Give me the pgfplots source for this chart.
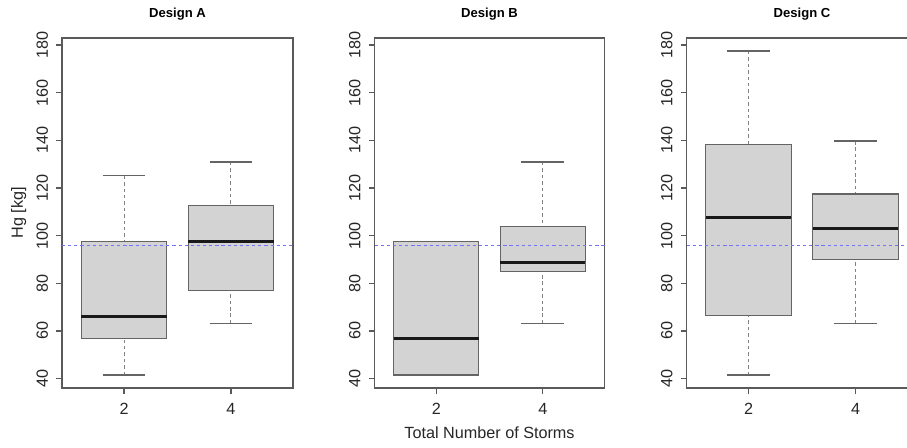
\documentclass[border=0pt]{standalone}
\usepackage{pgfplots}
\pgfplotsset{compat=1.18}
\usepgfplotslibrary{statistics}
\usepackage{fontspec}
\setmainfont{Liberation Sans}
\definecolor{boxfill}{RGB}{211,211,211}
\definecolor{boxedge}{RGB}{100,100,100}
\definecolor{whisk}{RGB}{130,130,130}
\definecolor{framec}{RGB}{90,90,90}
\definecolor{refblue}{RGB}{115,115,255}
\pgfplotsset{
  rbox/.style={
    boxplot/draw direction=y,
    boxplot/box extend=0.8,
    boxplot/whisker extend=0.4,
    boxplot/every box/.style={draw=boxedge, fill=boxfill, line width=0.9pt},
    boxplot/every median/.style={draw=black!90, line width=2.2pt},
    boxplot/draw/lower whisker/.code={%
      \draw[whisk, line width=0.75pt, dash pattern=on 2.6pt off 2.2pt]
        (boxplot cs:\pgfplotsboxplotvalue{lower whisker}) -- (boxplot cs:\pgfplotsboxplotvalue{lower quartile});
      \draw[boxedge, line width=0.9pt, solid]
        (boxplot whisker cs:\pgfplotsboxplotvalue{lower whisker},0) -- (boxplot whisker cs:\pgfplotsboxplotvalue{lower whisker},1);
    },
    boxplot/draw/upper whisker/.code={%
      \draw[whisk, line width=0.75pt, dash pattern=on 2.6pt off 2.2pt]
        (boxplot cs:\pgfplotsboxplotvalue{upper whisker}) -- (boxplot cs:\pgfplotsboxplotvalue{upper quartile});
      \draw[boxedge, line width=0.9pt, solid]
        (boxplot whisker cs:\pgfplotsboxplotvalue{upper whisker},0) -- (boxplot whisker cs:\pgfplotsboxplotvalue{upper whisker},1);
    },
    mark=none, solid, draw=boxedge
  },
  panel/.style={
    scale only axis, width=173.25pt, height=262.5pt,
    anchor=south west,
    xmin=0.42, xmax=2.58, ymin=36.06, ymax=182.94,
    xtick={1,2}, xticklabels={2,4},
    ytick={40,60,...,180},
    tick pos=left, tick align=outside,
    major tick length=4.5pt,
    axis line style={framec, line width=0.9pt},
    every tick/.style={framec, line width=0.9pt},
    yticklabel style={rotate=90, anchor=south},
    yticklabel shift=2.5pt,
    xticklabel shift=3.2pt,
    xticklabel style={anchor=north},
    /pgf/number format/assume math mode=true,
    ticklabel style={font=\fontsize{12.15}{14}\selectfont, text=black!85},
    title style={font=\bfseries\fontsize{9.8}{12}\selectfont, at={(0.5,1)}, anchor=base, yshift=9.3pt},
    label style={font=\fontsize{12.15}{14}\selectfont, text=black!85},
  },
  overlayax/.style={
    scale only axis, width=173.25pt, height=262.5pt,
    anchor=south west,
    xmin=0.42, xmax=2.58, ymin=36.06, ymax=182.94,
    hide axis
  }
}
\begin{document}
\begin{tikzpicture}
\useasboundingbox (0,0) rectangle (680.25pt,335.25pt);
\clip (0,0) rectangle (680.25pt,335.25pt);
% Design A
\begin{axis}[panel, at={(46.5pt,44.25pt)}, title={Design A},
  ylabel={Hg [kg]},
  ylabel style={at={(axis description cs:-0.188,0.5)}, anchor=center}]
\addplot[rbox, boxplot prepared={draw position=1, lower whisker=41.5, lower quartile=56.8, median=66.2, upper quartile=97.7, upper whisker=125.1}] coordinates {};
\addplot[rbox, boxplot prepared={draw position=2, lower whisker=63.2, lower quartile=77.1, median=97.7, upper quartile=112.5, upper whisker=130.9}] coordinates {};
\end{axis}
% Design B
\begin{axis}[panel, at={(280.9pt,44.25pt)}, width=172.5pt, title={Design B},
  xlabel={Total Number of Storms},
  xlabel style={at={(axis description cs:0.5,0)}, anchor=center, yshift=-33.75pt}]
\addplot[rbox, boxplot prepared={draw position=1, lower whisker=41.5, lower quartile=41.5, median=56.8, upper quartile=97.7, upper whisker=97.7}] coordinates {};
\addplot[rbox, boxplot prepared={draw position=2, lower whisker=63.2, lower quartile=85.1, median=88.6, upper quartile=103.7, upper whisker=130.9}] coordinates {};
\end{axis}
% Design C
\begin{axis}[panel, at={(514.9pt,44.25pt)}, title={Design C}]
\addplot[rbox, boxplot prepared={draw position=1, lower whisker=41.5, lower quartile=66.4, median=107.6, upper quartile=138.3, upper whisker=177.5}] coordinates {};
\addplot[rbox, boxplot prepared={draw position=2, lower whisker=63.2, lower quartile=90.1, median=103.1, upper quartile=117.5, upper whisker=139.7}] coordinates {};
\end{axis}
% reference lines drawn on top in overlay axes
\begin{axis}[overlayax, at={(46.5pt,44.25pt)}]
\addplot[color=refblue, line width=1pt, dash pattern=on 2.4pt off 2.2pt] coordinates {(0.42,96) (2.58,96)};
\end{axis}
\begin{axis}[overlayax, at={(280.9pt,44.25pt)}, width=172.5pt]
\addplot[color=refblue, line width=1pt, dash pattern=on 2.4pt off 2.2pt] coordinates {(0.42,96) (2.58,96)};
\end{axis}
\begin{axis}[overlayax, at={(514.9pt,44.25pt)}]
\addplot[color=refblue, line width=1pt, dash pattern=on 2.4pt off 2.2pt] coordinates {(0.42,96) (2.58,96)};
\end{axis}
\end{tikzpicture}
\end{document}
